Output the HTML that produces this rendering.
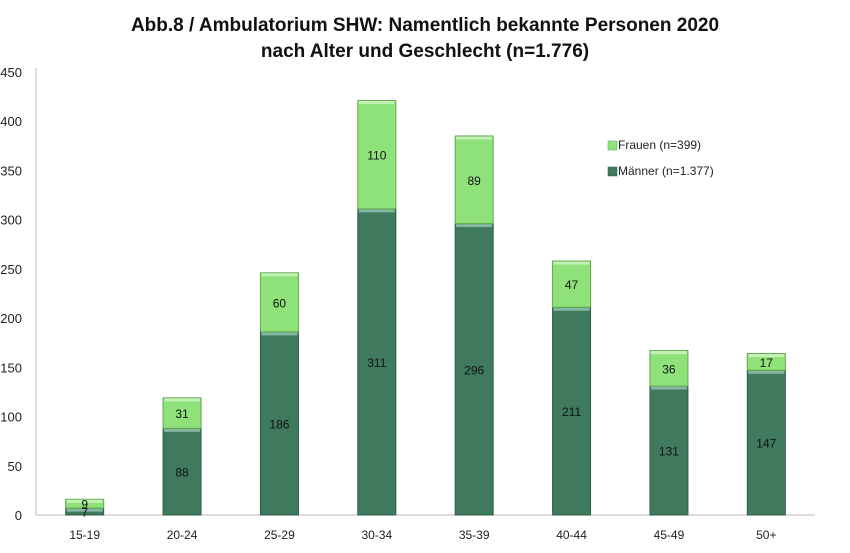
<!DOCTYPE html>
<html><head><meta charset="utf-8"><style>
body{margin:0;background:#fff;font-family:"Liberation Sans",sans-serif;}
svg text{font-family:"Liberation Sans",sans-serif;}
</style></head><body>
<svg width="850" height="548" viewBox="0 0 850 548">
<text x="425" y="31" text-anchor="middle" font-size="19" font-weight="bold" fill="#111">Abb.8 / Ambulatorium SHW: Namentlich bekannte Personen 2020</text>
<text x="425" y="57" text-anchor="middle" font-size="19" font-weight="bold" fill="#111">nach Alter und Geschlecht (n=1.776)</text>
<g id="axes"></g><g id="bars"></g>
<g>
<rect x="608" y="141" width="9" height="9" fill="#8fe27a" stroke="#5aa04a" stroke-width="0.5"/>
<text x="618" y="149" font-size="12" fill="#222">Frauen (n=399)</text>
<rect x="608" y="167" width="9" height="9" fill="#3f7a5e" stroke="#2a5a44" stroke-width="0.5"/>
<text x="618" y="175" font-size="12" fill="#222">Männer (n=1.377)</text>
</g>
</svg>
<script>
const categories=["15-19","20-24","25-29","30-34","35-39","40-44","45-49","50+"];
const maenner=[7,88,186,311,296,211,131,147];
const frauen=[9,31,60,110,89,47,36,17];
const yTicks=[0,50,100,150,200,250,300,350,400,450];
const NS="http://www.w3.org/2000/svg";
const y0=515,y1=72,yMax=450,xL=36,xR=815;
const y=v=>y0-(v/yMax)*(y0-y1);
const step=(xR-xL)/categories.length;
const xc=i=>xL+step*(i+0.5);
const bw=38;
function mk(t,a,p){const e=document.createElementNS(NS,t);for(const k in a)e.setAttribute(k,a[k]);p.appendChild(e);return e;}
const ax=document.getElementById('axes'),bs=document.getElementById('bars');
let l=mk('line',{x1:xL,y1:y1-4,x2:xL,y2:y0,stroke:'#bbb'},ax);


l=mk('line',{x1:xL,y1:y0,x2:xR,y2:y0,stroke:'#bbb'},ax);


yTicks.forEach(v=>{const t=mk('text',{x:22,y:y(v)+5,'text-anchor':'end','font-size':13,fill:'#222'},ax);t.textContent=v;

});
categories.forEach((c,i)=>{
const t=mk('text',{x:xc(i),y:539,'text-anchor':'middle','font-size':12,fill:'#222'},ax);t.textContent=c;


const x=xc(i)-bw/2,m=maenner[i],f=frauen[i];
const r1=mk('rect',{x:x,y:y(m),width:bw,height:y0-y(m),fill:'#3f7a5e',stroke:'#2e5e47','stroke-width':1},bs);


mk('rect',{x:x+1,y:y(m)+0.5,width:bw-2,height:3,fill:'#86b7a0'},bs);
const r2=mk('rect',{x:x,y:y(m+f),width:bw,height:y(m)-y(m+f),fill:'#8fe27a',stroke:'#5fa84e','stroke-width':1},bs);


mk('rect',{x:x+1,y:y(m+f)+0.5,width:bw-2,height:3,fill:'#c4f2b6'},bs);
const lm=mk('text',{x:xc(i),y:(y(m)+y0)/2+5,'text-anchor':'middle','font-size':12,fill:'#111'},bs);lm.textContent=m;


const lf=mk('text',{x:xc(i),y:(y(m)+y(m+f))/2+5,'text-anchor':'middle','font-size':12,fill:'#111'},bs);lf.textContent=f;


});
</script>
</body></html>
